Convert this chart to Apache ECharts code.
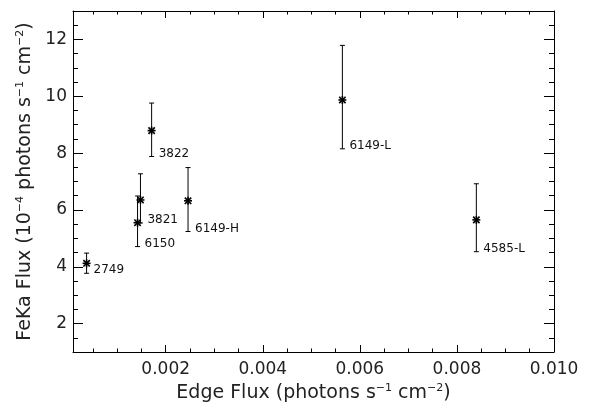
<!DOCTYPE html>
<html>
<head>
<meta charset="utf-8">
<script src="https://cdn.jsdelivr.net/npm/echarts@6/dist/echarts.min.js"></script>
<style>
  html, body, #main { margin: 0; padding: 0; width: 604px; height: 411px; overflow: hidden; background: #fff; }
</style>
</head>
<body>
<div id="main"></div>
<script>
// observation names, edge flux (x) and FeKa flux (y) with error range
var obsNames = ["2749", "6150", "3821", "3822", "6149-H", "6149-L", "4585-L"];
var edgeFlux = [0.00037, 0.00142, 0.00148, 0.00171, 0.00246, 0.00564, 0.0084];
var fekaFlux = [4.12, 5.55, 6.35, 8.79, 6.32, 9.87, 5.65];
var fekaLow = [3.77, 4.71, 5.54, 7.88, 5.24, 8.15, 4.53];
var fekaHigh = [4.48, 6.49, 7.27, 9.76, 7.49, 11.79, 6.92];

// tick positions
var xMajor = [0.002, 0.004, 0.006, 0.008, 0.010];
var xMinor = [0.0005, 0.001, 0.0015, 0.0025, 0.003, 0.0035, 0.0045, 0.005, 0.0055,
  0.0065, 0.007, 0.0075, 0.0085, 0.009, 0.0095];
var yMajor = [2, 4, 6, 8, 10, 12];
var yMinor = [1.5, 2.5, 3, 3.5, 4.5, 5, 5.5, 6.5, 7, 7.5, 8.5, 9, 9.5, 10.5, 11, 11.5, 12.5];

var FONT = "DejaVu Sans";
var X_MIN = 0.00009, X_MAX = 0.010, Y_MIN = 1, Y_MAX = 13;

var myChart = echarts.init(document.getElementById("main"), null, { renderer: "canvas" });

function xAxisDef(pos, ticks, len, withLabel, showLine) {
  return {
    type: "value",
    position: pos,
    min: X_MIN,
    max: X_MAX,
    splitLine: { show: false },
    axisLine: { show: showLine, onZero: false, lineStyle: { color: "#000", width: 1 } },
    axisTick: { show: true, inside: true, length: len, customValues: ticks, lineStyle: { color: "#000", width: 1 } },
    axisLabel: withLabel ? {
      show: true,
      customValues: xMajor,
      margin: 9,
      color: "#222",
      fontFamily: FONT,
      fontSize: 17,
      formatter: function (v) { return v.toFixed(3); },
    } : { show: false },
  };
}

function yAxisDef(pos, ticks, len, withLabel, showLine) {
  return {
    type: "value",
    position: pos,
    min: Y_MIN,
    max: Y_MAX,
    splitLine: { show: false },
    axisLine: { show: showLine, onZero: false, lineStyle: { color: "#000", width: 1 } },
    axisTick: { show: true, inside: true, length: len, customValues: ticks, lineStyle: { color: "#000", width: 1 } },
    axisLabel: withLabel ? {
      show: true,
      customValues: yMajor,
      margin: 6,
      color: "#222",
      fontFamily: FONT,
      fontSize: 17,
      formatter: function (v) { return String(Math.round(v)); },
    } : { show: false },
  };
}

var supStyle = { fontFamily: FONT, fontSize: 11, color: "#222", verticalAlign: "bottom", padding: [0, 0, 10, 0] };
var txtStyle = { fontFamily: FONT, fontSize: 19, color: "#222" };

var xBottom = xAxisDef("bottom", xMinor, 3.5, true, true);
xBottom.name = "{t|Edge Flux (photons s}{s|−1}{t| cm}{s|−2}{t|)}";
xBottom.nameLocation = "middle";
xBottom.nameGap = 25;
xBottom.nameTextStyle = { rich: { t: txtStyle, s: supStyle } };

var yLeft = yAxisDef("left", yMinor, 5, true, true);
yLeft.name = "{t|FeKa Flux (10}{s|−4}{t| photons s}{s|−1}{t| cm}{s|−2}{t|)}";
yLeft.nameLocation = "middle";
yLeft.nameRotate = 90;
yLeft.nameGap = 36;
yLeft.nameTextStyle = { rich: { t: txtStyle, s: supStyle } };

var seriesData = edgeFlux.map(function (x, i) {
  return [x, fekaFlux[i], fekaLow[i], fekaHigh[i]];
});

function renderPoint(params, api) {
  var p = api.coord([api.value(0), api.value(1)]);
  var lo = api.coord([api.value(0), api.value(2)]);
  var hi = api.coord([api.value(0), api.value(3)]);
  var st = { stroke: "#000", lineWidth: 1 };
  var ast = { stroke: "#000", lineWidth: 1.6 };
  var r = 4, d = 3.2, cap = 2.5;
  return {
    type: "group",
    children: [
      { type: "line", shape: { x1: lo[0], y1: lo[1], x2: hi[0], y2: hi[1] }, style: st },
      { type: "line", shape: { x1: hi[0] - cap, y1: hi[1], x2: hi[0] + cap, y2: hi[1] }, style: st },
      { type: "line", shape: { x1: lo[0] - cap, y1: lo[1], x2: lo[0] + cap, y2: lo[1] }, style: st },
      // asterisk
      { type: "line", shape: { x1: p[0] - r, y1: p[1], x2: p[0] + r, y2: p[1] }, style: ast },
      { type: "line", shape: { x1: p[0], y1: p[1] - r, x2: p[0], y2: p[1] + r }, style: ast },
      { type: "line", shape: { x1: p[0] - d, y1: p[1] - d, x2: p[0] + d, y2: p[1] + d }, style: ast },
      { type: "line", shape: { x1: p[0] - d, y1: p[1] + d, x2: p[0] + d, y2: p[1] - d }, style: ast },
      {
        type: "text",
        x: lo[0] + 7,
        y: lo[1] - 3,
        style: {
          text: obsNames[params.dataIndex],
          fill: "#111",
          font: "12px '" + FONT + "'",
          align: "left",
          verticalAlign: "middle",
        },
      },
    ],
  };
}

var option = {
  backgroundColor: "#fff",
  animation: false,
  grid: { left: 73, right: 50, top: 11, bottom: 59, containLabel: false },
  xAxis: [
    xBottom,
    xAxisDef("bottom", xMajor, 7, false, false),
    xAxisDef("top", xMinor, 3.5, false, true),
    xAxisDef("top", xMajor, 7, false, false),
  ],
  yAxis: [
    yLeft,
    yAxisDef("left", yMajor, 10, false, false),
    yAxisDef("right", yMinor, 5, false, true),
    yAxisDef("right", yMajor, 10, false, false),
  ],
  series: [
    {
      type: "custom",
      xAxisIndex: 0,
      yAxisIndex: 0,
      renderItem: renderPoint,
      encode: { x: 0, y: 1 },
      data: seriesData,
      clip: false,
    },
  ],
};

myChart.setOption(option);
</script>
</body>
</html>
